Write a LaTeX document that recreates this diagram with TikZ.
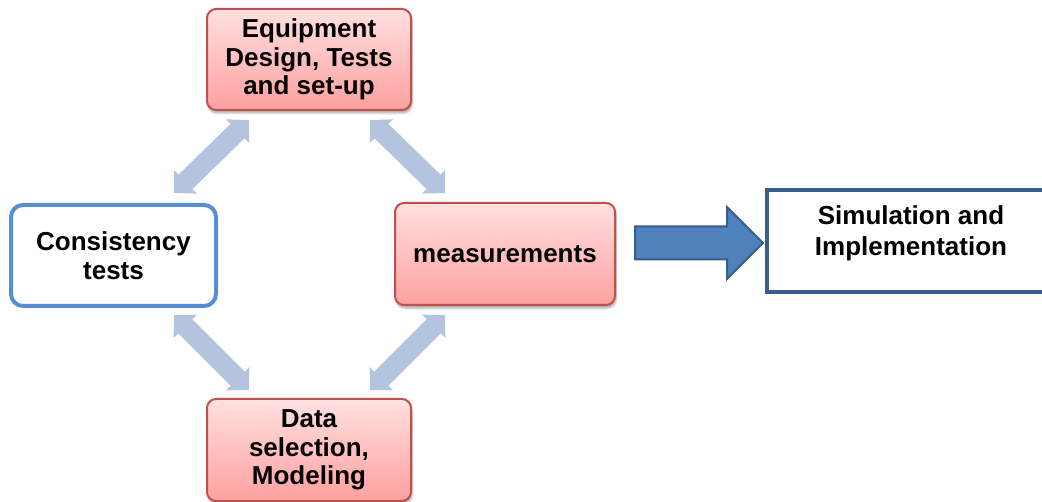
\documentclass[tikz,border=0pt]{standalone}
\usepackage{fontspec}
\setmainfont{Liberation Sans}
\usetikzlibrary{arrows.meta,shadows.blur,shapes.arrows}
\definecolor{pinkA}{RGB}{255,224,224}
\definecolor{pinkB}{RGB}{255,160,160}
\definecolor{redB}{RGB}{192,80,77}
\definecolor{blueB}{RGB}{85,142,213}
\definecolor{navyB}{RGB}{56,93,138}
\definecolor{arrowF}{RGB}{79,129,189}
\definecolor{lightA}{RGB}{180,196,222}
\begin{document}
\begin{tikzpicture}[x=1pt,y=-1pt,
  txt/.style={align=center,font=\fontsize{26}{28.5}\selectfont\bfseries},
  pinkbox/.style={txt,draw=redB,line width=2pt,rounded corners=9pt,
    top color=pinkA,bottom color=pinkB,inner sep=0pt,
    blur shadow={shadow xshift=1pt,shadow yshift=-3pt,shadow blur steps=6,shadow opacity=35}},
  bluebox/.style={txt,draw=blueB,line width=4pt,rounded corners=12pt,fill=white,inner sep=0pt},
  simbox/.style={draw=navyB,line width=4pt,fill=white,inner sep=0pt},
  dbl/.style={draw=lightA,line width=20pt,
    {Triangle[length=16pt,width=32pt]}-{Triangle[length=16pt,width=32pt]}},
  bigarrow/.style={single arrow,draw=navyB,fill=arrowF,line width=2pt,
    inner sep=15.5pt,single arrow head extend=19.5pt,minimum height=128pt}
]
\useasboundingbox (0,0) rectangle (1042,502);

\node[pinkbox,minimum width=204pt,minimum height=101pt] (eq) at (309,59.5)
  {Equipment\\Design, Tests\\and set-up};
\node[bluebox,minimum width=205pt,minimum height=101pt] (con) at (113.5,255.5)
  {Consistency\\tests};
\node[pinkbox,minimum width=220pt,minimum height=102pt] (meas) at (505,254)
  {measurements};
\node[pinkbox,minimum width=204pt,minimum height=102pt] (data) at (309,450)
  {Data\\selection,\\Modeling};
\node[simbox,minimum width=288pt,minimum height=102pt] (sim) at (911,241) {};
\node[txt,font=\fontsize{26}{31}\selectfont\bfseries] (simtxt) at (911,233.5)
  {Simulation and\\Implementation};

\node[bigarrow,anchor=tail] (ba) at (634,243) {};

\coordinate (ulA) at (174,193);
\coordinate (ulB) at (249,120);
\coordinate (urA) at (370,120);
\coordinate (urB) at (445,193);
\coordinate (llA) at (174,315);
\coordinate (llB) at (249,390);
\coordinate (lrA) at (445,315);
\coordinate (lrB) at (370,390);
\draw[dbl] (ulA) -- (ulB);
\draw[dbl] (urA) -- (urB);
\draw[dbl] (llA) -- (llB);
\draw[dbl] (lrA) -- (lrB);
\end{tikzpicture}
\end{document}
